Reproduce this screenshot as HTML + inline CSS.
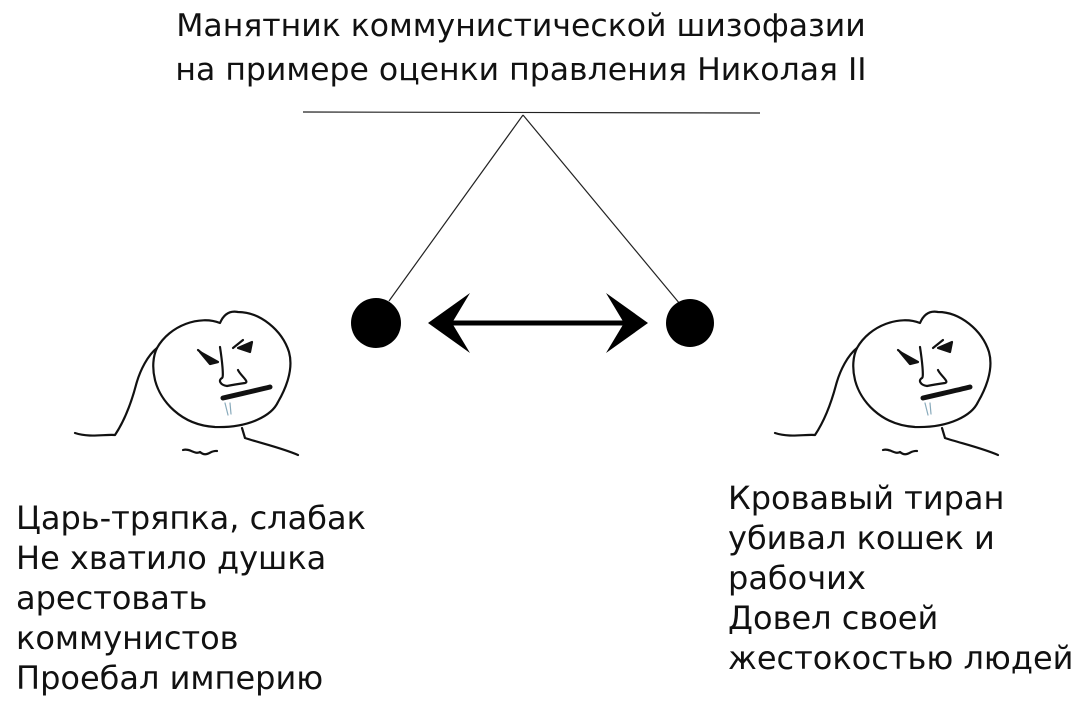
<!DOCTYPE html>
<html><head><meta charset="utf-8"><style>
body{margin:0;width:1080px;height:710px;background:#fff;overflow:hidden;position:relative;font-family:"DejaVu Sans","Liberation Sans",sans-serif;color:#111}
.t{position:absolute;left:0;width:1042px;text-align:center;top:4px;font-size:31.5px;line-height:44px;white-space:nowrap}
.l{position:absolute;font-size:32px;line-height:40px;white-space:nowrap}
</style></head><body>
<div class="t">Манятник коммунистической шизофазии<br>на примере оценки правления Николая II</div>
<svg width="1080" height="710" style="position:absolute;left:0;top:0">
<defs>
<g id="f" fill="none" stroke="#111" stroke-width="2.2" stroke-linecap="round" stroke-linejoin="round">
<path d="M97,58 C110,35 140,25 160,33 C163,26 168,20 178,22 C200,22 222,40 229,62 C234,80 225,100 218,112 C212,125 190,138 155,137 C120,135 100,110 95,90 C92,78 93,66 97,58Z"/>
<path d="M15,143 C30,148 45,144 55,145 C65,130 72,110 76,95 C80,80 88,65 97,58"/>
<path d="M182,138 L185,148 C200,153 222,158 238,165"/>
<path d="M123,160 C130,158 135,165 140,162 C147,168 150,160 157,161"/>
<path d="M160,57 C162,70 164,88 162,88 C158,90 160,95 167,96 C172,95 178,94 185,93 C190,92 180,85 178,80"/>
<path d="M138,60 L150,70 M173,58 L183,50"/>
<path d="M163,108 C180,104 198,100 210,97" stroke-width="5"/>
<path d="M140,62 L158,72 L150,74 Z M178,58 L192,52 L190,62 Z" fill="#111"/>
<path d="M165,113 L168,125 M170,113 L171,124" stroke="#8ab" stroke-width="1.2"/>
</g>
</defs>
<line x1="303" y1="112" x2="760" y2="113" stroke="#222" stroke-width="1.2"/>
<line x1="523" y1="115" x2="389" y2="301" stroke="#222" stroke-width="1.2"/>
<line x1="523" y1="115" x2="680" y2="304" stroke="#222" stroke-width="1.2"/>
<circle cx="376" cy="323" r="25" fill="#000"/>
<circle cx="690" cy="323" r="24" fill="#000"/>
<line x1="440" y1="323" x2="636" y2="323" stroke="#000" stroke-width="5"/>
<path d="M428,323 L470,293 L452,323 L470,353 Z" fill="#000"/>
<path d="M648,323 L606,293 L624,323 L606,353 Z" fill="#000"/>
<use href="#f" transform="translate(60,290)"/>
<use href="#f" transform="translate(760,290)"/>
</svg>
<div class="l" style="left:16px;top:498px">Царь-тряпка, слабак<br>Не хватило душка<br>арестовать<br>коммунистов<br>Проебал империю</div>
<div class="l" style="left:728px;top:478px">Кровавый тиран<br>убивал кошек и<br>рабочих<br>Довел своей<br>жестокостью людей</div>
</body></html>
